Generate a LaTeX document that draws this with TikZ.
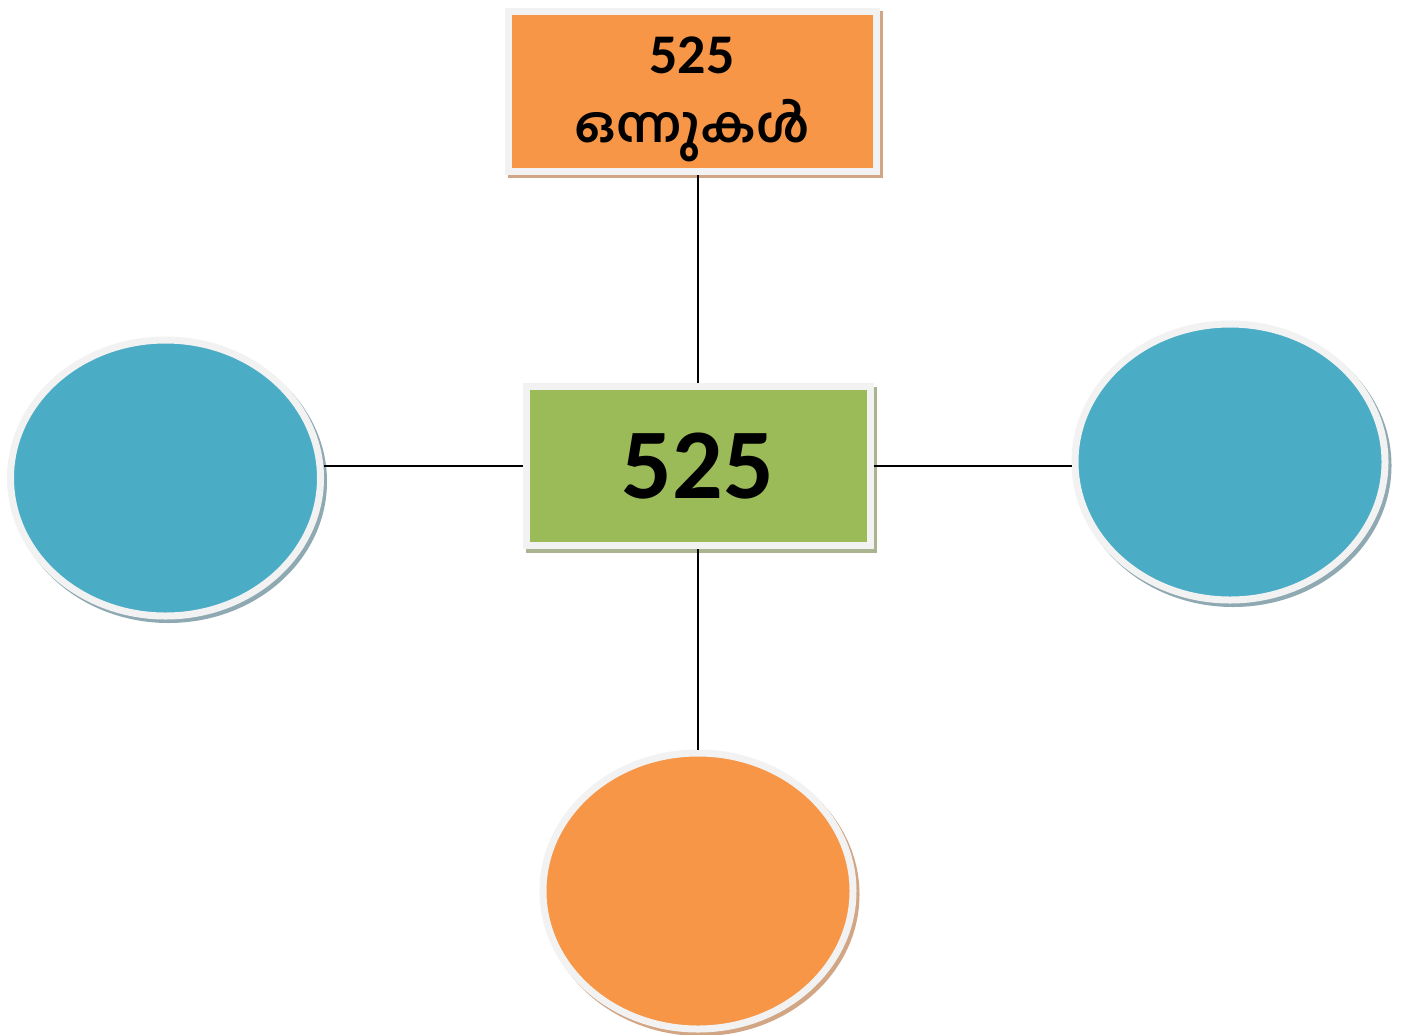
\documentclass[tikz,border=0pt]{standalone}
\usepackage{fontspec}
\setmainfont{Carlito}
\newfontfamily\malfont[Script=Malayalam]{Hind Kochi}
\usetikzlibrary{shapes.geometric,shadows}
\definecolor{cOrange}{HTML}{F79646}
\definecolor{cGreen}{HTML}{9BBB59}
\definecolor{cBlue}{HTML}{4BACC6}
\definecolor{cRim}{HTML}{F2F2F2}
\definecolor{shOrange}{HTML}{D2A684}
\definecolor{shGreen}{HTML}{AAB490}
\definecolor{shBlue}{HTML}{8FA9B3}
\tikzset{
  rimbox/.style={rectangle, draw=cRim, line width=7pt, inner sep=0pt},
  rimoval/.style={ellipse, draw=cRim, line width=7pt, inner sep=0pt,
    minimum width=310pt, minimum height=276pt},
  sh/.style={drop shadow={shadow xshift=3pt, shadow yshift=-3.5pt, fill=#1, draw=#1, line width=7pt, opacity=1}},
  link/.style={draw=black, line width=1.4pt}
}
\begin{document}
\begin{tikzpicture}[x=1pt,y=-1pt]
\useasboundingbox[fill=white] (0,0) rectangle (1402,1034);
\node[rimbox, fill=cOrange, sh=shOrange, minimum width=368pt, minimum height=160pt,
  align=center, font=\bfseries] (top) at (692,91)
  {\fontsize{56}{60}\selectfont\rule{0pt}{53pt}525\\[24pt]{\malfont\bfseries\fontsize{50}{56}\selectfont ഒന്നുകൾ}};
\node[rimbox, fill=cGreen, sh=shGreen, minimum width=344pt, minimum height=159pt,
  font=\bfseries\fontsize{100}{110}\selectfont] (mid) at (698,466) {525};
\node[rimoval, fill=cBlue, sh=shBlue] (left) at (165.5,478) {};
\node[rimoval, fill=cBlue, sh=shBlue] (right) at (1230,462) {};
\node[rimoval, fill=cOrange, sh=shOrange] (bottom) at (698,891) {};
\draw[link] (mid.north) -- (mid.north |- top.south);
\draw[link] (mid.south) -- (mid.south |- bottom.north);
\draw[link] (mid.west) -- (mid.west -| left.east);
\draw[link] (mid.east) -- (mid.east -| right.west);
\end{tikzpicture}
\end{document}
